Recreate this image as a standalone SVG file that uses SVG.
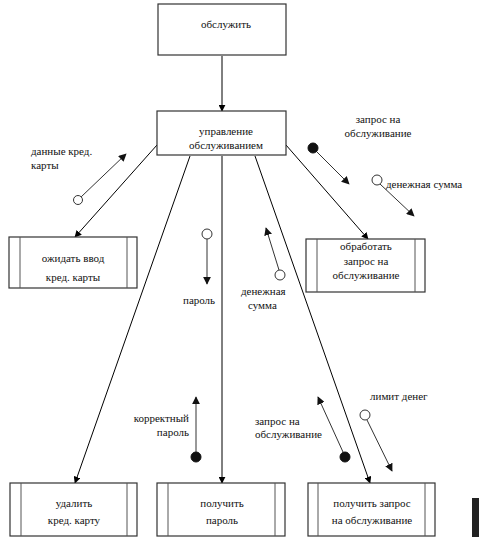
<svg xmlns="http://www.w3.org/2000/svg" width="479" height="539" viewBox="0 0 479 539" font-family="'Liberation Serif', 'DejaVu Serif', serif">
<defs>
<marker id="ah" viewBox="0 0 10 10" refX="9" refY="5" markerWidth="7" markerHeight="7" orient="auto" markerUnits="userSpaceOnUse">
<path d="M0,0 L10,5 L0,10 z" fill="#000"/>
</marker>
<marker id="ahs" viewBox="0 0 10 10" refX="9" refY="5" markerWidth="8" markerHeight="8" orient="auto" markerUnits="userSpaceOnUse">
<path d="M0,0 L10,5 L0,10 z" fill="#111"/>
</marker>
</defs>
<style>
.bx{fill:#fff;stroke:#333;stroke-width:1.2}
.sd{fill:none;stroke:#555;stroke-width:1}
.ln{fill:none;stroke:#000;stroke-width:1;marker-end:url(#ah)}
.fl{fill:none;stroke:#333;stroke-width:1;marker-end:url(#ahs)}
.oc{fill:#fff;stroke:#333;stroke-width:1}
.fc{fill:#111;stroke:#111;stroke-width:1}
text{font-family:'Liberation Serif','DejaVu Serif',serif;font-size:11px;fill:#111}
.c{text-anchor:middle}
.e{text-anchor:end}
</style>
<rect x="0" y="0" width="479" height="539" fill="#fff"/>

<g id="connectors">
<line class="ln" x1="222" y1="56" x2="222" y2="111"/>
<line class="ln" x1="157" y1="145" x2="75" y2="237"/>
<line class="ln" x1="190" y1="156" x2="75" y2="483"/>
<line class="ln" x1="222" y1="156" x2="222" y2="483"/>
<line class="ln" x1="255" y1="156" x2="370" y2="483"/>
<line class="ln" x1="286" y1="145" x2="368" y2="239"/>
</g>

<g id="n-obsluzhit">
<rect class="bx" x="158" y="4" width="128" height="51"/>
<text class="c" x="226" y="28">обслужить</text>
</g>

<g id="n-upravlenie">
<rect class="bx" x="157" y="111" width="129" height="44"/>
<text class="c" x="226" y="135">управление</text>
<text class="c" x="226" y="149">обслуживанием</text>
</g>

<g id="n-ozhidat">
<rect class="bx" x="9" y="237" width="128" height="51"/>
<line class="sd" x1="20" y1="237" x2="20" y2="288"/>
<line class="sd" x1="127" y1="237" x2="127" y2="288"/>
<text class="c" x="73" y="262">ожидать ввод</text>
<text class="c" x="73" y="281">кред. карты</text>
</g>

<g id="n-obrabotat">
<rect class="bx" x="306" y="239" width="119" height="53"/>
<line class="sd" x1="317" y1="239" x2="317" y2="292"/>
<line class="sd" x1="415" y1="239" x2="415" y2="292"/>
<text class="c" x="366" y="250">обработать</text>
<text class="c" x="366" y="265">запрос на</text>
<text class="c" x="366" y="279">обслуживание</text>
</g>

<g id="n-udalit">
<rect class="bx" x="10" y="483" width="127" height="53"/>
<line class="sd" x1="21" y1="483" x2="21" y2="536"/>
<line class="sd" x1="127" y1="483" x2="127" y2="536"/>
<text class="c" x="74" y="507">удалить</text>
<text class="c" x="74" y="524">кред. карту</text>
</g>

<g id="n-poluchit-parol">
<rect class="bx" x="157" y="483" width="128" height="53"/>
<line class="sd" x1="168" y1="483" x2="168" y2="536"/>
<line class="sd" x1="275" y1="483" x2="275" y2="536"/>
<text class="c" x="222" y="507">получить</text>
<text class="c" x="222" y="524">пароль</text>
</g>

<g id="n-poluchit-zapros">
<rect class="bx" x="308" y="483" width="127" height="53"/>
<line class="sd" x1="318" y1="483" x2="318" y2="536"/>
<line class="sd" x1="425" y1="483" x2="425" y2="536"/>
<text class="c" x="372" y="507">получить запрос</text>
<text class="c" x="372" y="524">на обслуживание</text>
</g>

<g id="flows">
<line class="fl" x1="81" y1="197" x2="126" y2="154"/>
<circle class="oc" cx="78" cy="200" r="4.5"/>
<text x="31" y="155">данные кред.</text>
<text x="31" y="169">карты</text>

<line class="fl" x1="316" y1="151" x2="349" y2="184"/>
<circle class="fc" cx="313" cy="148" r="5"/>
<text class="c" x="378" y="123">запрос на</text>
<text class="c" x="378" y="137">обслуживание</text>

<line class="fl" x1="380" y1="184" x2="414" y2="216"/>
<circle class="oc" cx="377" cy="180" r="5"/>
<text x="386" y="188">денежная сумма</text>

<line class="fl" x1="207" y1="239" x2="207" y2="284"/>
<circle class="oc" cx="207" cy="234" r="5"/>
<text x="183" y="304">пароль</text>

<line class="fl" x1="279" y1="270" x2="266" y2="228"/>
<circle class="oc" cx="280" cy="275" r="5"/>
<text x="241" y="295">денежная</text>
<text x="248" y="309">сумма</text>

<line class="fl" x1="196" y1="452" x2="196" y2="397"/>
<circle class="fc" cx="196" cy="457" r="5"/>
<text class="e" x="189" y="422">корректный</text>
<text class="e" x="189" y="436">пароль</text>

<line class="fl" x1="343" y1="452" x2="318" y2="397"/>
<circle class="fc" cx="345" cy="457" r="5"/>
<text x="255" y="425">запрос на</text>
<text x="255" y="438">обслуживание</text>

<line class="fl" x1="367" y1="420" x2="392" y2="471"/>
<circle class="oc" cx="365" cy="415" r="5"/>
<text x="370" y="400">лимит денег</text>
</g>

<rect x="472" y="498" width="7" height="39" fill="#222"/>
</svg>
